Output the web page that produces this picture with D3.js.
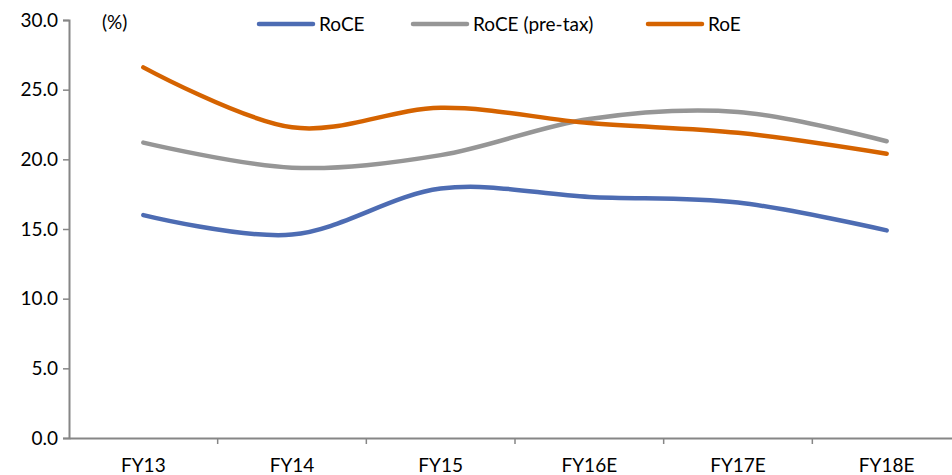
<!DOCTYPE html>
<html>
<head>
<meta charset="utf-8">
<script src="https://cdn.jsdelivr.net/npm/d3@7"></script>
<style>
  body { margin: 0; background: #fff; }
  svg text { font-family: Lato, "Open Sans", sans-serif; fill: #000; }
</style>
</head>
<body>
<div id="chart"></div>
<script>
const years = ["FY13", "FY14", "FY15", "FY16E", "FY17E", "FY18E"];
const roce = [16.0, 14.6, 17.9, 17.3, 16.9, 14.9];
const rocePreTax = [21.2, 19.4, 20.3, 22.9, 23.4, 21.3];
const roe = [26.6, 22.3, 23.7, 22.6, 21.9, 20.4];
const yTicks = [0, 5, 10, 15, 20, 25, 30];

const series = [
  { name: "RoCE", values: roce, color: "#4d6cb3" },
  { name: "RoCE (pre-tax)", values: rocePreTax, color: "#969696" },
  { name: "RoE", values: roe, color: "#d56300" }
];

const width = 952, height = 475;
const margin = { top: 20, left: 69, bottom: 37 };
const plotRight = 961;
const fontSize = "19px";

const svg = d3.select("#chart").append("svg")
  .attr("width", width)
  .attr("height", height);

const x = d3.scaleBand()
  .domain(years)
  .range([margin.left, plotRight]);

const y = d3.scaleLinear()
  .domain([0, 30])
  .range([height - margin.bottom, margin.top]);

// y axis
const yAxis = svg.append("g")
  .attr("transform", `translate(${margin.left},0)`)
  .call(d3.axisLeft(y).tickValues(yTicks).tickFormat(d3.format(".1f")).tickSize(6).tickPadding(5));
yAxis.select(".domain").attr("stroke", "#868686").attr("stroke-width", 2);
yAxis.selectAll(".tick line").attr("stroke", "#868686").attr("stroke-width", 1.5);
yAxis.selectAll("text").style("font-size", fontSize);

// x axis, ticks at band edges
const xAxis = svg.append("g")
  .attr("transform", `translate(0,${y(0)})`)
  .call(d3.axisBottom(x).tickSize(0).tickPadding(21));
xAxis.select(".domain").attr("stroke", "#868686").attr("stroke-width", 2);
xAxis.selectAll("text").style("font-size", fontSize);
xAxis.selectAll(".edge")
  .data(years.slice(1).concat(["end"]))
  .join("line")
  .attr("x1", (d, i) => margin.left + x.bandwidth() * (i + 1))
  .attr("x2", (d, i) => margin.left + x.bandwidth() * (i + 1))
  .attr("y1", 0)
  .attr("y2", 6)
  .attr("stroke", "#868686")
  .attr("stroke-width", 1.5);

// unit label
svg.append("text")
  .attr("x", 102)
  .attr("y", 22)
  .attr("dy", "0.35em")
  .style("font-size", fontSize)
  .text("(%)");

// lines
const line = d3.line()
  .x((d, i) => x(years[i]) + x.bandwidth() / 2)
  .y(d => y(d))
  .curve(d3.curveCardinal.tension(0));

svg.selectAll(".series")
  .data(series)
  .join("path")
  .attr("d", d => line(d.values))
  .attr("fill", "none")
  .attr("stroke", d => d.color)
  .attr("stroke-width", 4.5)
  .attr("stroke-linecap", "round")
  .attr("stroke-linejoin", "round");

// legend
const legendX = [259, 413, 648];
const legend = svg.selectAll(".legend")
  .data(series)
  .join("g")
  .attr("transform", (d, i) => `translate(${legendX[i]},24)`);
legend.append("line")
  .attr("x1", 0).attr("x2", 54)
  .attr("stroke", d => d.color)
  .attr("stroke-width", 4.5)
  .attr("stroke-linecap", "round");
legend.append("text")
  .attr("x", 60)
  .attr("dy", "0.35em")
  .style("font-size", fontSize)
  .text(d => d.name);
</script>
</body>
</html>
